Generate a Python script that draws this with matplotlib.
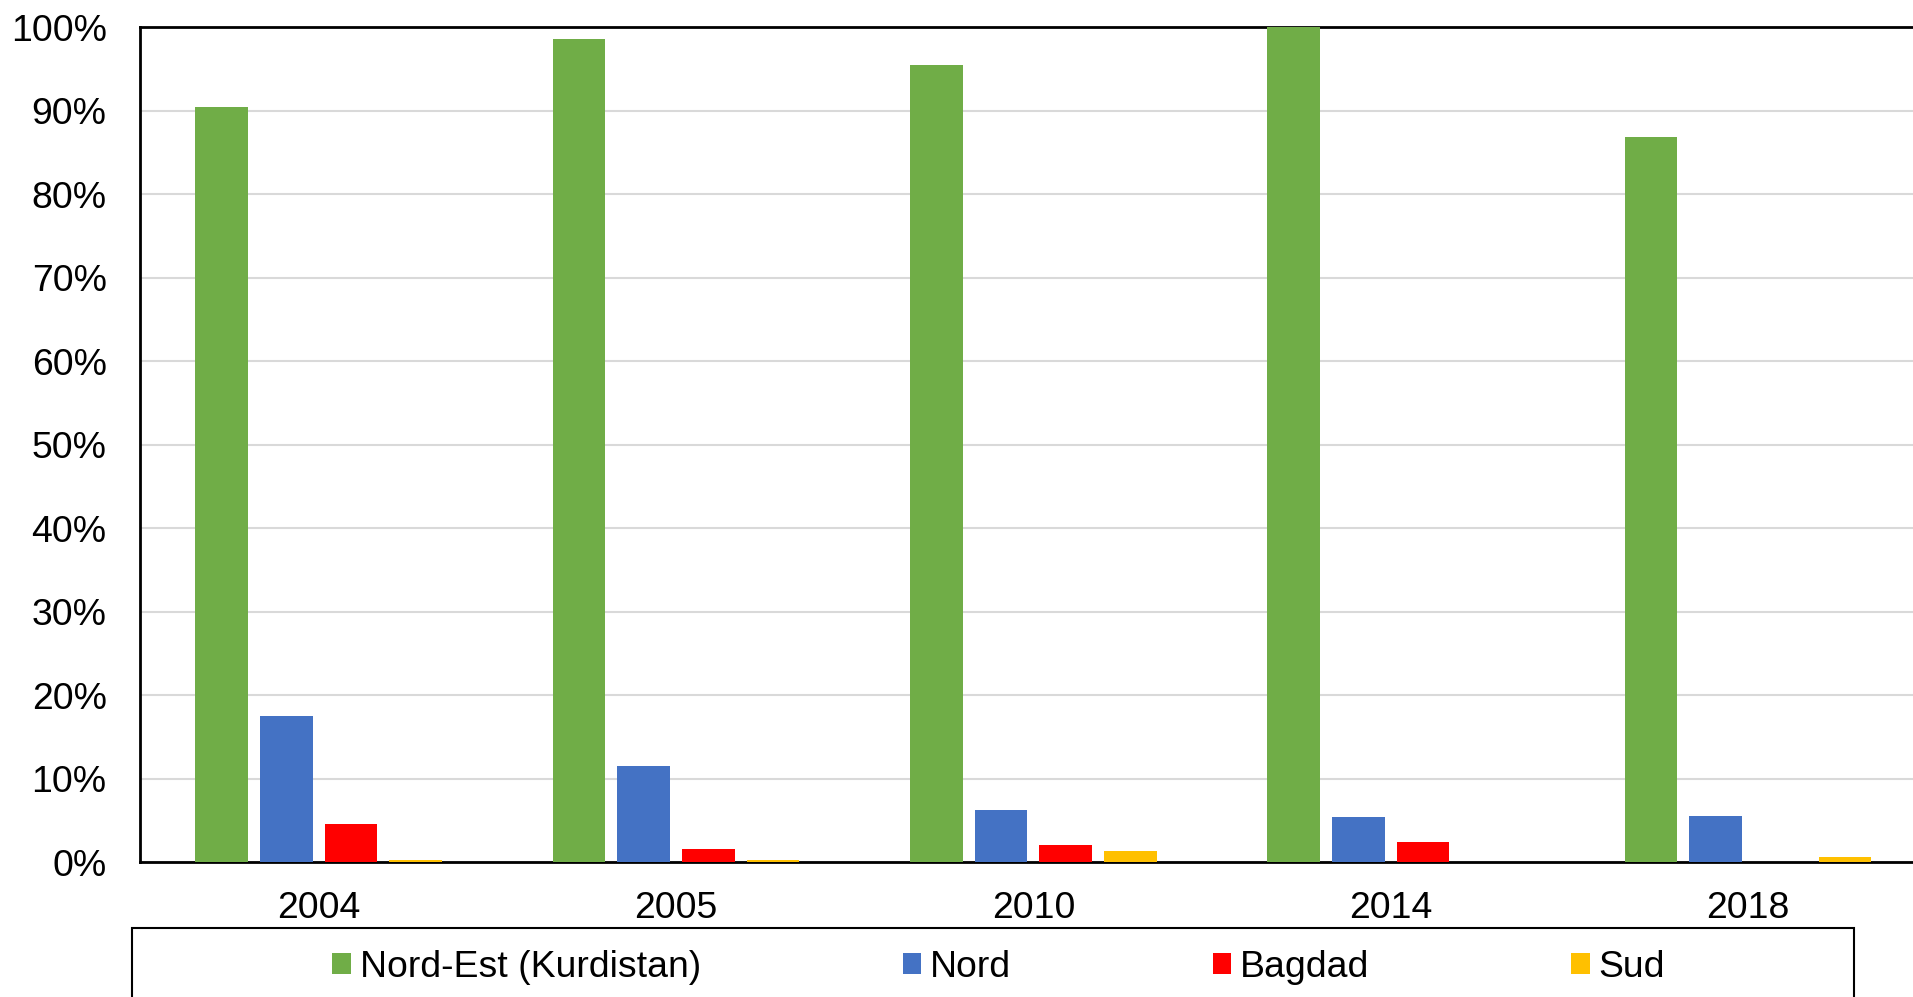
import matplotlib
matplotlib.use("Agg")
import matplotlib.pyplot as plt
from matplotlib.ticker import PercentFormatter, MultipleLocator
from matplotlib.patches import Rectangle
import numpy as np

plt.rcParams['font.family'] = ['Liberation Sans', 'DejaVu Sans']

years = ['2004', '2005', '2010', '2014', '2018']
series = ['Nord-Est (Kurdistan)', 'Nord', 'Bagdad', 'Sud']
nord_est = [0.904, 0.986, 0.955, 1.000, 0.868]
nord = [0.175, 0.115, 0.062, 0.054, 0.055]
bagdad = [0.046, 0.015, 0.020, 0.024, 0.0]
sud = [0.002, 0.002, 0.013, 0.0, 0.006]
colors = ['#70AD47', '#4472C4', '#FF0000', '#FFC000']

fig = plt.figure(figsize=(19.13, 9.97), dpi=100)
ax = fig.add_axes([0.0732, 0.1354, 0.934, 0.8375])

x = np.arange(len(years))
step = 0.181
width = 0.147
for i, (vals, name) in enumerate(zip([nord_est, nord, bagdad, sud], series)):
    ax.bar(x + (i - 1.5) * step, vals, width=width, color=colors[i], label=name, zorder=3)

ax.set_xlim(-0.5, len(years) - 0.5)
ax.set_ylim(0, 1)
ax.yaxis.set_major_locator(MultipleLocator(0.1))
ax.yaxis.set_major_formatter(PercentFormatter(1.0, decimals=0))
ax.set_xticks(x)
ax.set_xticklabels(years)
ax.tick_params(axis='both', length=0, labelsize=26.9)
ax.tick_params(axis='y', pad=24)
ax.tick_params(axis='x', pad=21)
ax.grid(axis='y', color='#D9D9D9', linewidth=1.5, zorder=0)
for s in ['left', 'top', 'bottom']:
    ax.spines[s].set_color('black')
    ax.spines[s].set_linewidth(2)
ax.spines['right'].set_visible(False)

# legend box drawn separately
fig.patches.append(Rectangle((0.069, -0.02), 0.9, 0.0892, transform=fig.transFigure,
                             fill=False, edgecolor='black', linewidth=1.5))
fig.legend(loc='center', bbox_to_anchor=(0.522, 0.0295), ncol=4, frameon=False,
           fontsize=26.9, handlelength=0.5, handleheight=0.5, handletextpad=0.23,
           columnspacing=5.4)

fig.savefig('out.png', dpi=100)
